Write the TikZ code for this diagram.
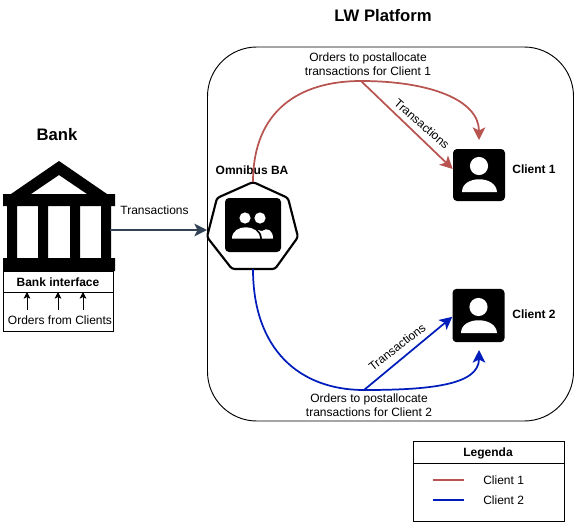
\documentclass[tikz,border=0pt]{standalone}
\usepackage{fontspec}
\setmainfont{Liberation Sans}
\usetikzlibrary{arrows.meta}
\definecolor{redline}{HTML}{B85450}
\definecolor{blueline}{HTML}{001DBC}
\definecolor{slateline}{HTML}{314354}
\tikzset{
  lbl/.style={font=\fontsize{9}{10.5}\selectfont,inner sep=0pt,align=center,text=black},
  boldlbl/.style={lbl,font=\fontsize{9}{10.5}\selectfont\bfseries},
  title/.style={lbl,font=\fontsize{12.5}{14}\selectfont\bfseries},
  tip/.style={-{Stealth[length=9.5pt,width=9.5pt,inset=2.4pt]}},
  smalltip/.style={-{Stealth[length=5pt,width=5pt,inset=1.2pt]}},
  redconn/.style={draw=redline,line width=1.3pt,tip},
  blueconn/.style={draw=blueline,line width=1.3pt,tip},
  iconbox/.style={fill=black,rounded corners=3pt,minimum width=39pt,minimum height=39pt,inner sep=0pt},
  thinbox/.style={draw=black,line width=.7pt,inner sep=0pt}
}
\begin{document}
\begin{tikzpicture}[x=.75pt,y=-.75pt]
\useasboundingbox (0,0) rectangle (574,521);
% platform
\node[thinbox,rounded corners=37pt,minimum width=274.5pt,minimum height=280.5pt] (platform) at (390.5,234) {};
\node[title] (lw) at (383,16) {LW Platform};
\node[title] (banktitle) at (57,135) {Bank};
% bank building
\fill[black,even odd rule] (59,161) -- (107,194) -- (115,194) -- (115,206) -- (111,206) -- (111,258) -- (115,258) -- (115,271) -- (3,271) -- (3,258) -- (7,258) -- (7,206) -- (3,206) -- (3,194) -- (11,194) -- cycle
  (31,194) -- (59,175) -- (87,194) -- cycle
  (17,206) rectangle (38,258)
  (48,206) rectangle (70,258)
  (80,206) rectangle (101,258);
\coordinate (bankout) at (110,230);
% bank interface
\node[thinbox,minimum width=82.5pt,minimum height=45pt] (iface) at (58,301) {};
\draw[line width=.7pt,black] (3,292) -- (113,292);
\node[boldlbl] (ifacelbl) at (58,282) {Bank interface};
\node[lbl] (orders) at (60,320) {Orders from Clients};
\coordinate (a1s) at (27,310); \coordinate (a1e) at (27,292);
\coordinate (a2s) at (58,310); \coordinate (a2e) at (58,292);
\coordinate (a3s) at (83,310); \coordinate (a3e) at (83,292);
\draw[black,line width=.6pt,smalltip] (a1s) -- (a1e);
\draw[black,line width=.6pt,smalltip] (a2s) -- (a2e);
\draw[black,line width=.6pt,smalltip] (a3s) -- (a3e);
% omnibus
\coordinate (omtop) at (253,182);
\coordinate (ombot) at (253,269);
\coordinate (omleft) at (207,237);
\draw[black,line width=1.6pt,line join=round,fill=white,rounded corners=2pt] (omtop) -- (288,198) -- (298,237) -- (275,269) -- (ombot) -- (232,269) -- (omleft) -- (217,198) -- cycle;
\node[iconbox,minimum width=42pt,minimum height=40.5pt] (omni) at (253,225) {};
\fill[white] (245,218) circle (4.2pt) (260,218) circle (4.2pt);
\fill[white] (262,231) .. controls (267,227) and (273,230) .. (273,238.5) -- (262,238.5) .. controls (262,235) and (261,233) .. (258,230) -- cycle;
\fill[white] (232,238.5) .. controls (232,223.5) and (259.5,223.5) .. (260,238.5) -- cycle;
\node[boldlbl] (omlbl) at (252,170) {Omnibus BA};
% clients
\node[iconbox] (c1) at (479,175) {};
\fill[white] (479,166) circle (6.8pt);
\fill[white] (462,192) .. controls (462,175) and (496,175) .. (497,192) -- cycle;
\node[boldlbl] (c1lbl) at (534,169.5) {Client 1};
\node[iconbox,minimum height=40pt] (c2) at (478.5,315.5) {};
\fill[white] (478.5,307) circle (6.8pt);
\fill[white] (461,333) .. controls (461,316) and (496,316) .. (497,333) -- cycle;
\node[boldlbl] (c2lbl) at (534,314.5) {Client 2};
% connectors
\draw[draw=slateline,line width=1.3pt,tip] (bankout) -- (omleft |- bankout);
\node[lbl] (trans0) at (154.5,210) {Transactions};
\coordinate (r1) at (361,81);
\coordinate (c1top) at (479,140);
\draw[redconn] (omtop) .. controls (253,110) and (300,81) .. (r1) .. controls (430,81) and (479,100) .. (c1top);
\draw[redconn] (r1) -- ([yshift=4.5pt]c1.west);
\coordinate (b1) at (364,390);
\coordinate (c2bot) at (479,350);
\draw[blueconn] (ombot) .. controls (253,350) and (300,390) .. (b1) .. controls (430,390) and (479,385) .. (c2bot);
\draw[blueconn] (b1) -- ([yshift=-1pt]c2.west);
\node[lbl] (oc1) at (368,64.5) {Orders to postallocate\\transactions for Client 1};
\node[lbl] (oc2) at (369,405) {Orders to postallocate\\transactions for Client 2};
\node[lbl,rotate=-41] (t1) at (422,124) {Transactions};
\node[lbl,rotate=38] (t2) at (397,347) {Transactions};
% legend
\node[thinbox,minimum width=113.25pt,minimum height=60pt,anchor=north west] (legend) at (413,441) {};
\draw[line width=.7pt,black] (413,463) -- (564,463);
\node[boldlbl] (legt) at (488,453) {Legenda};
\coordinate (l1a) at (433,480); \coordinate (l1b) at (464,480);
\coordinate (l2a) at (433,500); \coordinate (l2b) at (464,500);
\draw[redline,line width=1.2pt] (l1a) -- (l1b);
\draw[blueline,line width=1.2pt] (l2a) -- (l2b);
\node[lbl,anchor=west] (l1) at (483,480) {Client 1};
\node[lbl,anchor=west] (l2) at (483,500) {Client 2};
\end{tikzpicture}
\end{document}
